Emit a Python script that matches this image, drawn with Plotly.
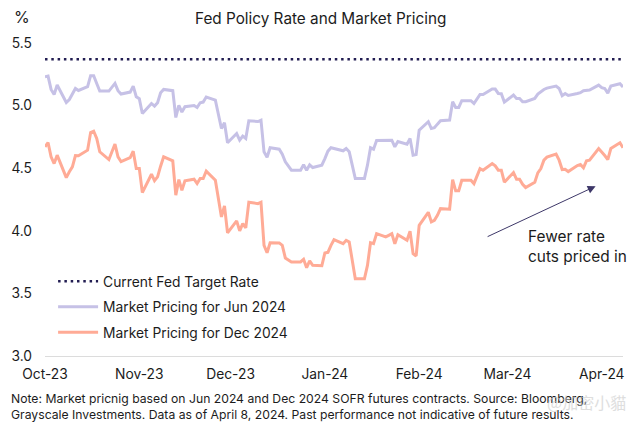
import pandas as pd
import plotly.graph_objects as go

# the source dates sit a day early, so every week runs Sunday to Thursday
dates = pd.bdate_range("2023-10-02", "2024-04-09") - pd.Timedelta(days=1)

fed_target = [5.37] * len(dates)

jun_2024 = [
    5.231, 5.236, 5.129, 5.089, 5.164, 5.025, 5.049, 5.089, 5.137, 5.121,
    5.151, 5.239, 5.239, 5.177, 5.116, 5.116, 5.145, 5.177, 5.119, 5.092,
    5.108, 5.156, 5.071, 5.055, 4.937, 5.017, 4.996, 5.023, 5.103, 5.129,
    5.119, 4.905, 5.001, 4.948, 4.991, 5.001, 4.985, 5.023, 5.028, 5.068,
    5.044, 4.929, 4.817, 4.863, 4.703, 4.777, 4.724, 4.756, 4.737, 4.879,
    4.873, 4.884, 4.631, 4.588, 4.663, 4.652, 4.612, 4.551, 4.519, 4.484,
    4.484, 4.527, 4.484, 4.527, 4.505, 4.524, 4.577, 4.636, 4.663, 4.657,
    4.639, 4.657, 4.631, 4.524, 4.417, 4.417, 4.524, 4.663, 4.652, 4.721,
    4.721, 4.721, 4.724, 4.671, 4.713, 4.692, 4.737, 4.604, 4.609, 4.804,
    4.871, 4.817, 4.823, 4.852, 4.879, 4.884, 5.031, 4.985, 4.985, 5.039,
    5.039, 5.017, 5.055, 5.089, 5.089, 5.132, 5.132, 5.097, 5.095, 5.028,
    5.084, 5.057, 5.057, 5.031, 5.031, 5.057, 5.092, 5.111, 5.129, 5.140,
    5.156, 5.137, 5.079, 5.097, 5.081, 5.097, 5.103, 5.119, 5.124, 5.124,
    5.164, 5.143, 5.137, 5.100, 5.156, 5.175, 5.148,
]

dec_2024 = [
    4.671, 4.705, 4.591, 4.537, 4.604, 4.425, 4.471, 4.511, 4.601, 4.599,
    4.644, 4.785, 4.796, 4.737, 4.631, 4.569, 4.631, 4.692, 4.591, 4.553,
    4.585, 4.636, 4.497, 4.497, 4.305, 4.452, 4.401, 4.431, 4.516, 4.591,
    4.559, 4.284, 4.409, 4.324, 4.399, 4.412, 4.377, 4.417, 4.417, 4.476,
    4.404, 4.244, 4.111, 4.199, 3.983, 4.079, 3.999, 4.057, 4.023, 4.228,
    4.217, 4.228, 3.884, 3.825, 3.905, 3.903, 3.884, 3.783, 3.764, 3.751,
    3.751, 3.772, 3.705, 3.759, 3.724, 3.721, 3.823, 3.828, 3.884, 3.929,
    3.897, 3.924, 3.911, 3.764, 3.617, 3.617, 3.724, 3.905, 3.897, 3.977,
    3.951, 3.964, 3.977, 3.897, 3.969, 3.924, 3.996, 3.817, 3.799, 4.044,
    4.148, 4.071, 4.084, 4.124, 4.177, 4.172, 4.409, 4.319, 4.319, 4.404,
    4.404, 4.377, 4.431, 4.497, 4.484, 4.537, 4.519, 4.484, 4.484, 4.388,
    4.465, 4.412, 4.412, 4.372, 4.345, 4.388, 4.463, 4.497, 4.564, 4.588,
    4.612, 4.564, 4.489, 4.492, 4.473, 4.521, 4.529, 4.503, 4.559, 4.564,
    4.657, 4.631, 4.601, 4.569, 4.657, 4.703, 4.663,
]

FONT = "Inter"
INK = "#1c1c1c"
NAVY = "#221d52"

note = (
    "Note: Market pricnig based on Jun 2024 and Dec 2024 SOFR futures contracts. Source: Bloomberg,<br>"
    "Grayscale Investments. Data as of April 8, 2024. Past performance not indicative of future results."
)

fig = go.Figure()
fig.add_trace(go.Scatter(x=dates, y=fed_target, mode="lines", name="Current Fed Target Rate",
                         legendgroup="a", line=dict(color=NAVY, width=2.5, dash="2.5px,3.8px")))
fig.add_trace(go.Scatter(x=dates, y=jun_2024, mode="lines", name="Market Pricing for Jun 2024",
                         legendgroup="b", line=dict(color="#c6c1e6", width=3)))
fig.add_trace(go.Scatter(x=dates, y=dec_2024, mode="lines", name="Market Pricing for Dec 2024",
                         legendgroup="c", line=dict(color="#ffab96", width=3)))

# the page keeps its 8px body margin, so the figure is 8px smaller than the window
fig.update_layout(
    width=632,
    height=419,
    margin=dict(l=37, r=17, t=35, b=71, autoexpand=False),
    paper_bgcolor="white",
    plot_bgcolor="white",
    font=dict(family=FONT, size=13.8, color=INK),
    legend=dict(x=0.014, y=0.288, xanchor="left", yanchor="top", bgcolor="rgba(0,0,0,0)",
                tracegroupgap=4.5, itemwidth=40, font=dict(size=13.8)),
    xaxis=dict(range=["2023-10-01", "2024-04-08"], tick0="2023-10-01", dtick="M1", tickformat="%b-%y",
               showgrid=False, showline=True, linecolor="#dcdcdc", linewidth=1.2, ticks="", ticklabelstandoff=5),
    yaxis=dict(range=[3.0, 5.5], dtick=0.5, tickformat=".1f", showgrid=False, zeroline=False, ticks="",
               ticklabelstandoff=12),
)

fig.add_annotation(text="Fed Policy Rate and Market Pricing", xref="paper", yref="paper", x=0.476, y=1.0,
                   yshift=36, showarrow=False, font=dict(size=15.3))
fig.add_annotation(text="%", xref="paper", yref="paper", x=-0.057, y=1.0, yshift=38, showarrow=False,
                   font=dict(size=16))
fig.add_annotation(x="2024-03-30", y=4.356, ax="2024-02-23", ay=3.948, xref="x", yref="y", axref="x", ayref="y",
                   text="", showarrow=True, arrowhead=2, arrowsize=1.6, arrowwidth=1, arrowcolor="#3d3768")
fig.add_annotation(text="Fewer rate<br>cuts priced in", x="2024-03-07", y=4.05, xref="x", yref="y",
                   xanchor="left", yanchor="top", align="left", showarrow=False, font=dict(size=15.4))
fig.add_annotation(text=note, xref="paper", yref="paper", x=-0.062, y=0, yshift=-32.5, xanchor="left", yanchor="top",
                   align="left", showarrow=False, font=dict(size=12.2))
fig.add_annotation(text="@加密小貓", xref="paper", yref="paper", x=1.008, y=0, yshift=-32, xanchor="right", yanchor="top",
                   showarrow=False, opacity=0.6, font=dict(family="Noto Sans CJK TC", size=16, color="#c9c9c9"))

fig.write_html("out.html")
